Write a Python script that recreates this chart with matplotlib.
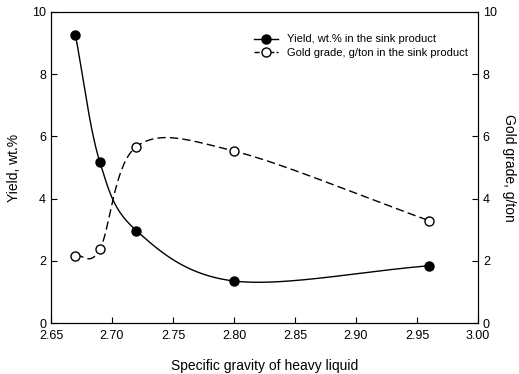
import numpy as np
import matplotlib
matplotlib.use("Agg")
import matplotlib.pyplot as plt

plt.rcParams['font.family'] = ['Liberation Sans', 'DejaVu Sans']

# data
gravity = [2.67, 2.69, 2.72, 2.80, 2.96]
yield_wt = [9.26, 5.18, 2.97, 1.35, 1.84]
gold_grade = [2.16, 2.37, 5.67, 5.53, 3.29]


def smooth_line(x, y, num=60):
    # Catmull-Rom curve through the points, only used to draw the line
    p = np.column_stack([x, y]).astype(float)
    n = len(p)
    tang = np.empty_like(p)
    tang[0] = p[1] - p[0]
    tang[-1] = p[-1] - p[-2]
    tang[1:-1] = (p[2:] - p[:-2]) / 2
    t = np.linspace(0, 1, num)[:, None]
    h00 = 2 * t**3 - 3 * t**2 + 1
    h10 = t**3 - 2 * t**2 + t
    h01 = -2 * t**3 + 3 * t**2
    h11 = t**3 - t**2
    segs = []
    for i in range(n - 1):
        segs.append(h00 * p[i] + h10 * tang[i] + h01 * p[i + 1] + h11 * tang[i + 1])
    out = np.vstack(segs)
    return out[:, 0], out[:, 1]


fig = plt.figure(figsize=(5.19, 3.74), dpi=100)
ax = fig.add_axes([51 / 519, 1 - 323 / 374, 427 / 519, 311 / 374])
ax2 = ax.twinx()

sx, sy = smooth_line(gravity, yield_wt)
ax.plot(sx, sy, color='black', lw=1.0)
ax.plot(gravity, yield_wt, 'o', color='black', ms=6.5)
gx, gy = smooth_line(gravity, gold_grade)
ax2.plot(gx, gy, '--', color='black', lw=1.0, dashes=(6, 3))
ax2.plot(gravity, gold_grade, 'o', mfc='white', mec='black', ms=6.5, mew=1.0)

ax.set_xlim(2.65, 3.00)
ax.set_ylim(0, 10)
ax2.set_ylim(0, 10)
xt = np.arange(2.65, 3.001, 0.05)
ax.set_xticks(xt)
ax.set_xticklabels([f"{v:.2f}" for v in xt])
ax.set_yticks([0, 2, 4, 6, 8, 10])
ax2.set_yticks([0, 2, 4, 6, 8, 10])
ax.tick_params(direction='in', labelsize=9, length=4)
ax.tick_params(axis='x', pad=5)
ax2.tick_params(direction='in', labelsize=9, length=4)

ax.set_xlabel("Specific gravity of heavy liquid", fontsize=10, labelpad=12)
ax.set_ylabel("Yield, wt.%", fontsize=10, labelpad=8)
ax2.set_ylabel("Gold grade, g/ton", fontsize=10, rotation=270, labelpad=14)

h1 = plt.Line2D([], [], color='black', lw=1.0, marker='o', ms=6.5)
h2 = plt.Line2D([], [], color='black', lw=1.0, ls='--', marker='o', mfc='white', ms=6.5)
ax.legend([h1, h2], ["Yield, wt.% in the sink product",
                     "Gold grade, g/ton in the sink product"],
          loc='upper right', frameon=False, fontsize=8, handlelength=2.2,
          bbox_to_anchor=(1.0, 0.96), labelspacing=0.3)

fig.savefig("out.png", dpi=100)
